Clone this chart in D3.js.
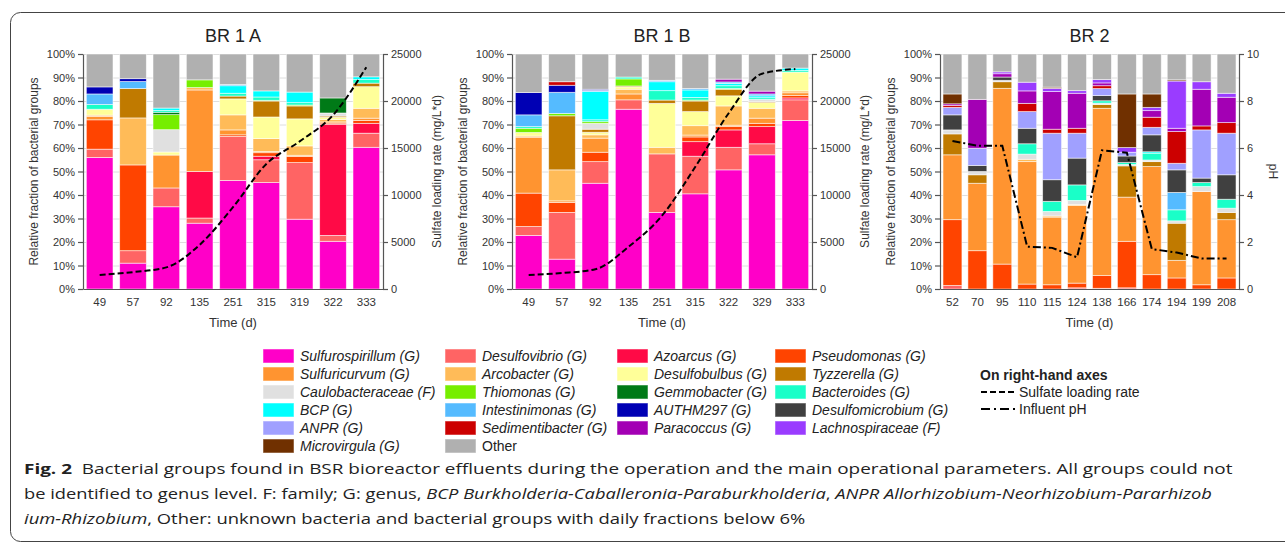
<!DOCTYPE html>
<html lang="en">
<head>
<meta charset="UTF-8" />
<title>Bacterial groups in BSR bioreactor effluents</title>
<script src="https://d3js.org/d3.v7.min.js"></script>
<style>
  body { margin: 0; background: #fff; }
  svg { font-family: "Liberation Sans", Arial, sans-serif; }
  .grid line { stroke: #dedede; stroke-width: 1px; }
  .axis path, .axis line { stroke: #555; stroke-width: 1.2px; }
  .axis text { fill: #333; font-size: 11px; font-family: "Liberation Sans", Arial, sans-serif; }
  .title { font-size: 18px; fill: #222; }
  .label { font-size: 12px; fill: #333; }
  .legend text { font-size: 14px; fill: #222; }
  .caption { font-family: "Open Sans", "Noto Sans", sans-serif; font-size: 15px; fill: #222; }
</style>
</head>
<body>
<svg id="figure" width="1285" height="546"></svg>
<script>
// stacking order, bottom to top
const groups = ["Sulfurospirillum", "Desulfovibrio", "Azoarcus", "Pseudomonas", "Sulfuricurvum",
  "Arcobacter", "Desulfobulbus", "Tyzzerella", "Caulobacteraceae", "Thiomonas", "Gemmobacter",
  "Bacteroides", "BCP", "Intestinimonas", "AUTHM297", "Desulfomicrobium", "ANPR", "Sedimentibacter",
  "Paracoccus", "Lachnospiraceae", "Microvirgula", "Other"];
const groupLevels = ["G", "G", "G", "G", "G", "G", "G", "G", "F", "G", "G",
  "G", "G", "G", "G", "G", "G", "G", "G", "F", "G", ""];
const groupColors = ["#ff00c8", "#ff6464", "#ff0a46", "#ff4400", "#ff9430",
  "#ffbb58", "#ffff99", "#c07a00", "#e0e0e0", "#76ee00", "#007a17",
  "#1affc8", "#00ffff", "#55bbff", "#0000b4", "#404040", "#a0a0ff", "#cc0000",
  "#a300b4", "#9a3cff", "#703000", "#b0b0b0"];

const legendColumns = [
  ["Sulfurospirillum", "Sulfuricurvum", "Caulobacteraceae", "BCP", "ANPR", "Microvirgula"],
  ["Desulfovibrio", "Arcobacter", "Thiomonas", "Intestinimonas", "Sedimentibacter", "Other"],
  ["Azoarcus", "Desulfobulbus", "Gemmobacter", "AUTHM297", "Paracoccus"],
  ["Pseudomonas", "Tyzzerella", "Bacteroides", "Desulfomicrobium", "Lachnospiraceae"]
];

// BR 1 A
const br1aDays = [49, 57, 92, 135, 251, 315, 319, 322, 333];
const br1aFractions = [
  ["Sulfurospirillum", 56, 11, 35, 28, 46.2, 45.3, 29.7, 20.3, 60.3],
  ["Desulfovibrio", 3.5, 5.3, 8, 2.2, 18.7, 9.7, 24.1, 2.5, 6],
  ["Azoarcus", 0, 0, 0, 19.8, 0, 1.5, 0, 47.3, 4.2],
  ["Pseudomonas", 12.5, 36.5, 0, 0, 0.7, 1.5, 2.6, 0.5, 1.2],
  ["Sulfuricurvum", 1.5, 0, 14, 34.7, 2.1, 0.5, 0.5, 0.5, 1],
  ["Arcobacter", 0.5, 20, 0, 1, 6.4, 5.5, 4, 1, 4.2],
  ["Desulfobulbus", 2.5, 0, 1.3, 0, 6.8, 9.2, 11.5, 1, 9.2],
  ["Tyzzerella", 0, 12.5, 0, 0, 1.2, 6.8, 5.5, 0.5, 1.5],
  ["Caulobacteraceae", 0, 0, 9.5, 0, 0, 0, 0, 1.3, 0],
  ["Thiomonas", 0, 0, 6.4, 3.3, 0, 0.3, 0.4, 0, 0],
  ["Gemmobacter", 0, 0, 1, 0, 0, 0, 0, 6.4, 0],
  ["Bacteroides", 2, 0, 0.8, 0, 1.2, 1.4, 1, 0, 1.5],
  ["BCP", 0, 0, 1, 0, 3.2, 2.6, 4.5, 0, 1.2],
  ["Intestinimonas", 4.5, 3, 0, 0, 0.5, 0, 0, 0, 0],
  ["AUTHM297", 3, 1.2, 0, 0, 0, 0, 0, 0, 0],
  ["Other", 14, 10.5, 23, 11, 13, 15.7, 16.2, 18.7, 9.7]
];
const br1aSulfateRate = [1500, 1800, 2300, 4700, 8700, 13300, 15700, 18500, 23600];

// BR 1 B
const br1bDays = [49, 57, 92, 135, 251, 315, 322, 329, 333];
const br1bFractions = [
  ["Sulfurospirillum", 22.8, 12.7, 45, 76.5, 32.6, 40.5, 50.7, 57.1, 71.7],
  ["Desulfovibrio", 3.8, 19.9, 9.2, 4, 24.9, 16, 9.6, 4.7, 8.8],
  ["Azoarcus", 0, 0, 0, 0, 0, 6.2, 7.4, 7.3, 0.8],
  ["Pseudomonas", 14.2, 4.2, 4, 0, 0, 2, 1.4, 1.4, 1],
  ["Sulfuricurvum", 23.8, 0.7, 6, 2.5, 0, 0.8, 0.6, 2.2, 1.2],
  ["Arcobacter", 0.5, 13.2, 1.4, 2, 2.8, 4, 8.2, 4.2, 0.8],
  ["Desulfobulbus", 1.5, 0, 1.1, 1, 18.7, 6, 4.3, 2.4, 8],
  ["Tyzzerella", 0, 23, 1.3, 0.4, 1.4, 4.5, 2.8, 0.4, 0],
  ["Caulobacteraceae", 0, 0, 2.5, 0, 0, 0, 0, 1, 0],
  ["Thiomonas", 1.8, 1, 0.7, 3, 0, 0.4, 0.3, 0, 0],
  ["Bacteroides", 0.7, 0, 0.8, 0.8, 4, 1.1, 1.2, 0.7, 0.7],
  ["BCP", 0, 0, 12, 0, 3.8, 3.2, 1, 0.8, 1],
  ["Intestinimonas", 5, 9, 0.5, 0, 0.6, 0.6, 0.6, 0.8, 0],
  ["AUTHM297", 9.5, 3, 0.5, 0, 0, 0, 0, 0, 0],
  ["Sedimentibacter", 0, 1.5, 0, 0, 0, 0, 0, 0, 0],
  ["Paracoccus", 0, 0, 0, 0, 0, 0, 1.2, 1.2, 0],
  ["Other", 16.4, 11.8, 15, 9.8, 11.2, 14.7, 10.7, 15.8, 6]
];
const br1bSulfateRate = [1500, 1700, 2100, 4500, 7800, 13000, 18700, 22900, 23400];

// BR 2
const br2Days = [52, 70, 95, 110, 115, 124, 138, 166, 174, 194, 199, 208];
const br2Fractions = [
  ["Desulfovibrio", 1.5, 0, 0, 0, 0, 0.5, 0.3, 0.5, 0, 0, 0, 0],
  ["Pseudomonas", 28, 16.3, 10.6, 2.1, 1.8, 2, 5.4, 19.8, 6.1, 4.7, 1.8, 4.7],
  ["Sulfuricurvum", 27.6, 28.7, 74.8, 52.1, 28.8, 33, 71.2, 18.8, 46, 7.5, 39.7, 24.8],
  ["Arcobacter", 0, 0, 0, 1, 0.5, 0.5, 0, 0, 0, 0, 0, 0],
  ["Tyzzerella", 8.9, 3.6, 2.8, 0, 0, 0, 1.6, 13.3, 2.1, 15.8, 0, 3.1],
  ["Caulobacteraceae", 1.7, 1.4, 0.6, 2.2, 1.9, 1.7, 0.6, 0.6, 0.7, 1, 2.1, 1.8],
  ["Bacteroides", 0, 0, 0, 4.4, 4.3, 6.6, 1, 0.8, 2.9, 4.7, 1.7, 3.8],
  ["BCP", 0, 0, 0, 0, 0, 0, 0, 0, 0.6, 0, 0, 0],
  ["Intestinimonas", 0, 0, 0, 0, 0, 0, 0, 0, 0, 7.4, 0, 0],
  ["Desulfomicrobium", 6.4, 2.6, 1.4, 6.6, 9.2, 11.4, 2.2, 2.8, 7.2, 9.6, 1.9, 10.4],
  ["ANPR", 3.2, 7.3, 0, 7.1, 19.8, 10.6, 3, 1.6, 3.2, 2.8, 20.5, 17.7],
  ["Sedimentibacter", 0.8, 0, 0, 3.5, 1.7, 2.1, 1.2, 0, 4.3, 13.5, 1.7, 4.5],
  ["Paracoccus", 0.7, 20.8, 1.4, 5.3, 16, 14.9, 1.2, 0, 2.8, 1.4, 15.6, 10.8],
  ["Lachnospiraceae", 0, 0, 0.8, 3.7, 1.4, 1.1, 1.4, 2, 1.4, 20.1, 3.2, 1.7],
  ["Microvirgula", 4.2, 0, 0, 0, 0.5, 0, 0, 22.8, 5.7, 0.5, 0, 0],
  ["Other", 17, 19.3, 7.6, 12, 14.1, 15.6, 10.9, 17, 17, 11, 11.8, 16.7]
];
const br2InfluentPH = [6.3, 6.1, 6.1, 1.8, 1.75, 1.35, 5.9, 5.8, 1.7, 1.55, 1.3, 1.3];

const sulfateTicks = [0, 5000, 10000, 15000, 20000, 25000];
const phTicks = [0, 2, 4, 6, 8, 10];
const percentTicks = [0, 10, 20, 30, 40, 50, 60, 70, 80, 90, 100];

const svg = d3.select("#figure");
const color = d3.scaleOrdinal(groups, groupColors);
const plotTop = 54, plotBottom = 289;

// outer frame
svg.append("rect")
  .attr("x", 10.5).attr("y", 12.5)
  .attr("width", 1300).attr("height", 529)
  .attr("rx", 10)
  .attr("fill", "none").attr("stroke", "#444").attr("stroke-width", 1);

const panels = [
  { title: "BR 1 A", left: 83, right: 383, pad: 0.2, days: br1aDays, rows: br1aFractions,
    line: br1aSulfateRate, domain: [0, 25000], ticks: sulfateTicks, dash: "6,3", smooth: true,
    rightLabel: "Sulfate loading rate (mg/L*d)", rightLabelX: 437, rotate: -90 },
  { title: "BR 1 B", left: 512, right: 812, pad: 0.2, days: br1bDays, rows: br1bFractions,
    line: br1bSulfateRate, domain: [0, 25000], ticks: sulfateTicks, dash: "6,3", smooth: true,
    rightLabel: "Sulfate loading rate (mg/L*d)", rightLabelX: 865, rotate: -90 },
  { title: "BR 2", left: 940, right: 1239, pad: 0.24, days: br2Days, rows: br2Fractions,
    line: br2InfluentPH, domain: [0, 10], ticks: phTicks, dash: "8,3,2,3", smooth: false,
    rightLabel: "pH", rightLabelX: 1273, rotate: 90 }
];

panels.forEach(drawPanel);

function drawPanel(p) {
  const g = svg.append("g");
  const x = d3.scaleBand()
    .domain(p.days)
    .range([p.left, p.right])
    .paddingInner(p.pad)
    .paddingOuter(p.pad / 2);
  const y = d3.scaleLinear().domain([0, 100]).range([plotBottom, plotTop]);
  const y2 = d3.scaleLinear().domain(p.domain).range([plotBottom, plotTop]);

  g.append("g").attr("class", "grid")
    .selectAll("line")
    .data(percentTicks.slice(1))
    .join("line")
    .attr("x1", p.left).attr("x2", p.right)
    .attr("y1", d => y(d) + 0.5).attr("y2", d => y(d) + 0.5);

  // one record per sampling day
  const table = p.days.map((day, i) => {
    const rec = { day: day };
    groups.forEach(k => rec[k] = 0);
    p.rows.forEach(r => rec[r[0]] = r[i + 1]);
    return rec;
  });
  const series = d3.stack().keys(groups)(table);

  g.selectAll("g.layer")
    .data(series)
    .join("g")
    .attr("class", "layer")
    .attr("fill", d => color(d.key))
    .selectAll("rect")
    .data(d => d.filter(s => s[1] - s[0] > 0))
    .join("rect")
    .attr("x", d => x(d.data.day))
    .attr("width", x.bandwidth())
    .attr("y", d => y(d[1]))
    .attr("height", d => y(d[0]) - y(d[1]))
    .attr("stroke", "#fff")
    .attr("stroke-opacity", 0.65)
    .attr("stroke-width", 0.8);

  g.append("g").attr("class", "axis")
    .attr("transform", "translate(" + p.left + ",0)")
    .call(d3.axisLeft(y).tickValues(percentTicks).tickFormat(d => d + "%").tickSize(5).tickSizeOuter(0).tickPadding(3));

  g.append("g").attr("class", "axis")
    .attr("transform", "translate(" + p.right + ",0)")
    .call(d3.axisRight(y2).tickValues(p.ticks).tickFormat(d3.format("d")).tickSize(5).tickSizeOuter(0).tickPadding(3));

  g.append("g").attr("class", "axis")
    .attr("transform", "translate(0," + plotBottom + ")")
    .call(d3.axisBottom(x).tickSize(0).tickSizeOuter(0).tickPadding(9))
    .call(a => a.selectAll("text").style("font-size", "11.5px"));

  const line = d3.line()
    .x((d, i) => x(p.days[i]) + x.bandwidth() / 2)
    .y(d => y2(d))
    .curve(p.smooth ? d3.curveMonotoneX : d3.curveLinear);

  g.append("path")
    .datum(p.line)
    .attr("d", line)
    .attr("fill", "none")
    .attr("stroke", "#000")
    .attr("stroke-width", 2)
    .attr("stroke-dasharray", p.dash);

  const cx = (p.left + p.right) / 2;
  const cy = (plotTop + plotBottom) / 2;

  g.append("text").attr("class", "title")
    .attr("x", cx).attr("y", 42)
    .attr("text-anchor", "middle")
    .text(p.title);

  g.append("text").attr("class", "label")
    .attr("x", cx).attr("y", 327)
    .attr("text-anchor", "middle")
    .style("font-size", "13px")
    .text("Time (d)");

  g.append("text").attr("class", "label")
    .attr("transform", "translate(" + (p.left - 45) + "," + cy + ") rotate(-90)")
    .attr("text-anchor", "middle")
    .text("Relative fraction of bacterial groups");

  g.append("text").attr("class", "label")
    .attr("transform", "translate(" + (p.rightLabelX + (p.rotate < 0 ? 4 : -4)) + "," + cy + ") rotate(" + p.rotate + ")")
    .attr("text-anchor", "middle")
    .text(p.rightLabel);
}

// legend of bacterial groups
const swatchX = [263, 445, 617, 775];
const legend = svg.append("g").attr("class", "legend");
legendColumns.forEach((col, ci) => {
  const rows = legend.selectAll("g.c" + ci)
    .data(col)
    .join("g")
    .attr("transform", (d, i) => "translate(" + swatchX[ci] + "," + (356 + i * 18) + ")");
  rows.append("rect")
    .attr("x", 0).attr("y", -7)
    .attr("width", 31).attr("height", 14)
    .attr("fill", d => color(d))
    .attr("stroke", "#fff").attr("stroke-opacity", 0.5);
  rows.append("text")
    .attr("x", 37).attr("y", 5)
    .style("font-style", d => d === "Other" ? "normal" : "italic")
    .text(d => {
      const lvl = groupLevels[groups.indexOf(d)];
      return lvl ? d + " (" + lvl + ")" : d;
    });
});

// legend of the right-hand axes
const rl = svg.append("g").attr("class", "legend");
rl.append("text").attr("x", 980).attr("y", 380).style("font-weight", "bold").text("On right-hand axes");
rl.append("line").attr("x1", 981).attr("x2", 1015).attr("y1", 392).attr("y2", 392)
  .attr("stroke", "#000").attr("stroke-width", 2).attr("stroke-dasharray", "6,3");
rl.append("text").attr("x", 1019).attr("y", 397).text("Sulfate loading rate");
rl.append("line").attr("x1", 981).attr("x2", 1015).attr("y1", 409).attr("y2", 409)
  .attr("stroke", "#000").attr("stroke-width", 2).attr("stroke-dasharray", "9,4,2,4");
rl.append("text").attr("x", 1019).attr("y", 414).text("Influent pH");

// caption
const captionLines = [
  { y: 474, end: 1233, parts: [["Fig. 2", "bold"], ["  Bacterial groups found in BSR bioreactor effluents during the operation and the main operational parameters. All groups could not", ""]] },
  { y: 499, end: 1213, parts: [["be identified to genus level. F: family; G: genus, ", ""], ["BCP Burkholderia-Caballeronia-Paraburkholderia", "italic"], [", ", ""], ["ANPR Allorhizobium-Neorhizobium-Pararhizob", "italic"]] },
  { y: 524, end: 806, parts: [["ium-Rhizobium", "italic"], [", Other: unknown bacteria and bacterial groups with daily fractions below 6%", ""]] }
];
const capX = 24;
captionLines.forEach(l => {
  const t = svg.append("text").attr("class", "caption")
    .attr("x", capX).attr("y", l.y)
    .attr("xml:space", "preserve")
    .style("white-space", "pre");
  l.parts.forEach(pt => {
    t.append("tspan")
      .style("font-weight", pt[1] === "bold" ? "bold" : null)
      .style("font-style", pt[1] === "italic" ? "italic" : null)
      .text(pt[0]);
  });
  const len = t.node().getComputedTextLength();
  const k = (l.end - capX) / len;
  t.attr("transform", "translate(" + capX + ",0) scale(" + k + ",1) translate(" + (-capX) + ",0)");
});
</script>
</body>
</html>
